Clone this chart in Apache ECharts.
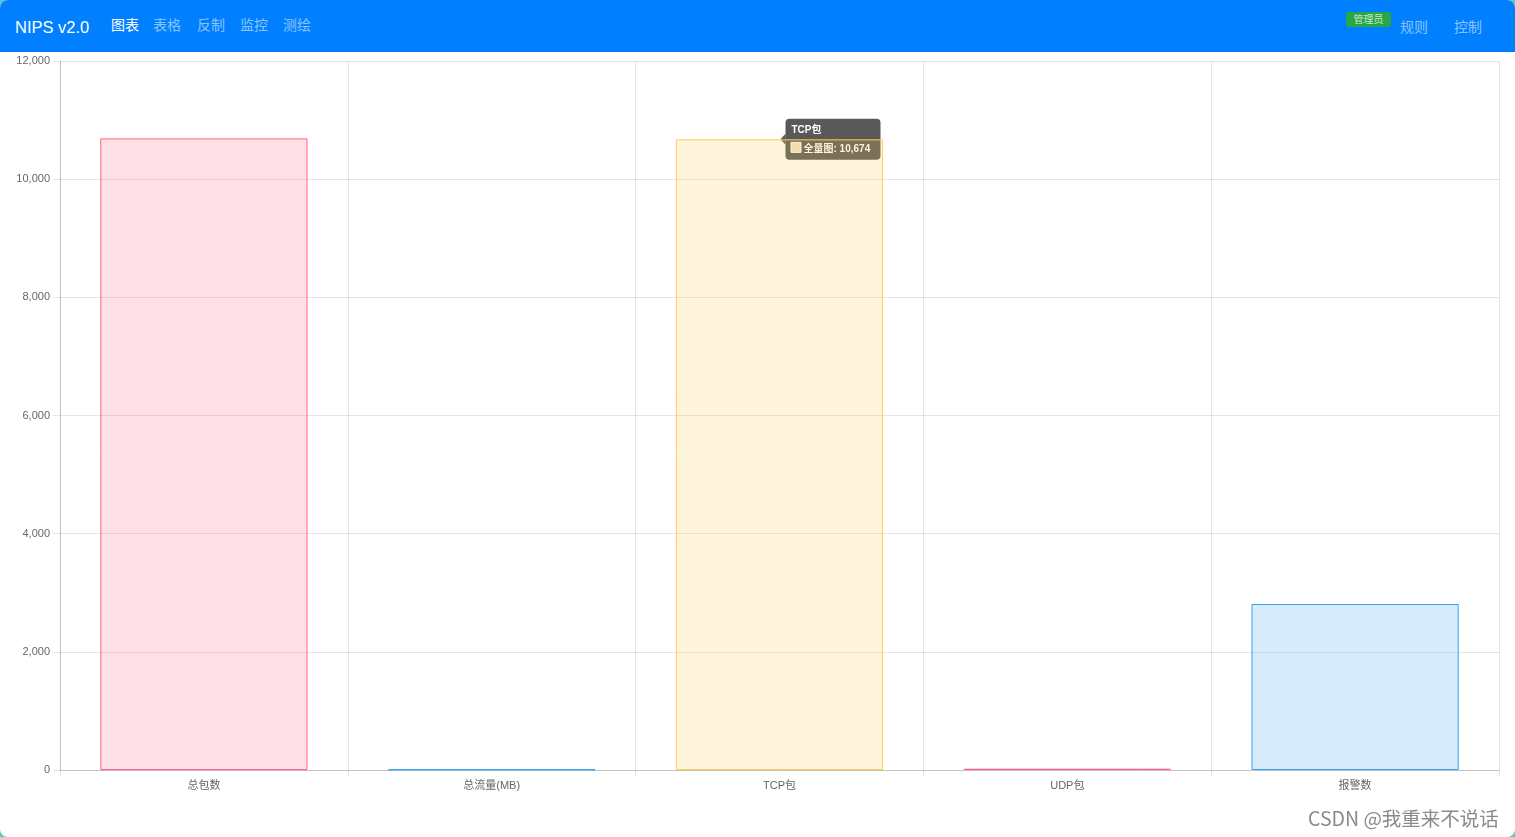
<!DOCTYPE html>
<html><head><meta charset="utf-8">
<script src="https://cdn.jsdelivr.net/npm/echarts@6/dist/echarts.min.js"></script>
<style>
html,body{margin:0;padding:0;width:1515px;height:837px;overflow:hidden;background:#5cc8c0;}
#page{position:absolute;left:0;top:0;width:1515px;height:837px;background:#fff;border-radius:8px;overflow:hidden;font-family:"Liberation Sans",Arial,"Noto Sans CJK SC",sans-serif;}
#nav{position:absolute;left:0;top:0;width:1515px;height:52px;background:#0080ff;}
#nav span{position:absolute;top:15px;font-size:14px;line-height:20px;color:rgba(255,255,255,0.55);}
#brand{left:15px;top:15px!important;font-size:16.5px!important;line-height:24px!important;color:#fff!important;}
#badge{position:absolute;left:1346px;top:12px;width:45px;height:15px;background:#28a745;border-radius:3px;color:rgba(255,255,255,0.75);font-size:10px;line-height:15px;text-align:center;}
#chart{position:absolute;left:0;top:52px;width:1515px;height:785px;}
#wm{position:absolute;left:1308px;top:806px;font-size:19.5px;line-height:24px;color:#8a8a8a;font-family:"Noto Sans CJK SC","Liberation Sans",sans-serif;}
</style></head>
<body><div id="page">
<div id="nav">
<span id="brand">NIPS v2.0</span>
<span style="left:111px;color:#fff">图表</span>
<span style="left:153px">表格</span>
<span style="left:197px">反制</span>
<span style="left:240px">监控</span>
<span style="left:283px">测绘</span>
<div id="badge">管理员</div>
<span style="left:1400px;top:17px">规则</span>
<span style="left:1454px;top:17px">控制</span>
</div>
<div id="chart"></div>
<div id="wm">CSDN @我重来不说话</div>
</div>
<script>
const categories = ['总包数', '总流量(MB)', 'TCP包', 'UDP包', '报警数'];
const values = [10690, 8, 10674, 22, 2810];
const seriesName = '全量图';
const fills = ['rgba(255,99,132,0.2)', 'rgba(54,162,235,0.2)', 'rgba(255,206,86,0.2)', 'rgba(255,99,132,0.2)', 'rgba(54,162,235,0.2)'];
const borders = ['rgba(255,99,132,1)', 'rgba(54,162,235,1)', 'rgba(255,206,86,1)', 'rgba(255,99,132,1)', 'rgba(54,162,235,1)'];
const tipIndex = 2;

const font = '"Liberation Sans", Arial, "Noto Sans CJK SC", sans-serif';
const chart = echarts.init(document.getElementById('chart'), null, {renderer: 'canvas'});
chart.setOption({
  animation: false,
  grid: {left: 60, right: 16, top: 9, bottom: 67},
  xAxis: {
    type: 'category', data: categories,
    axisLine: {show: true, lineStyle: {color: 'rgba(0,0,0,0.15)'}},
    axisTick: {show: true, length: 7, lineStyle: {color: 'rgba(0,0,0,0.1)'}},
    splitLine: {show: true, lineStyle: {color: 'rgba(0,0,0,0.1)'}},
    axisLabel: {color: '#666', fontSize: 11, fontFamily: font, margin: 10}
  },
  yAxis: {
    type: 'value', min: 0, max: 12000, interval: 2000,
    axisLine: {show: true, lineStyle: {color: 'rgba(0,0,0,0.15)'}},
    axisTick: {show: true, length: 7, lineStyle: {color: 'rgba(0,0,0,0.1)'}},
    splitLine: {show: true, lineStyle: {color: 'rgba(0,0,0,0.1)'}},
    axisLabel: {color: '#666', fontSize: 11, fontFamily: font, margin: 10,
      formatter: v => v.toLocaleString('en-US')}
  },
  series: [{
    type: 'bar', name: seriesName, barCategoryGap: '28%',
    data: values.map((v, i) => ({value: v, itemStyle: {color: fills[i], borderColor: borders[i], borderWidth: 1}}))
  }]
});

const p = chart.convertToPixel({xAxisIndex: 0, yAxisIndex: 0}, [categories[tipIndex], values[tipIndex]]);
const bx = p[0] + 6, by = p[1] - 20.5;
chart.setOption({
  graphic: [{
    type: 'group', left: 0, top: 0, silent: true, bounding: 'raw',
    children: [
      {type: 'polygon', shape: {points: [[bx, by + 15], [bx - 5, by + 20.5], [bx, by + 26]]}, style: {fill: 'rgba(0,0,0,0.65)'}},
      {type: 'rect', shape: {x: bx, y: by, width: 95, height: 41, r: 4}, style: {fill: 'rgba(0,0,0,0.65)'}},
      {type: 'text', style: {x: bx + 6, y: by + 6, text: categories[tipIndex], fill: '#fff', font: 'bold 10px ' + font}},
      {type: 'rect', shape: {x: bx + 5.5, y: by + 23.5, width: 10, height: 10}, style: {fill: '#efe3c4', stroke: '#fff', lineWidth: 1}},
      {type: 'text', style: {x: bx + 18, y: by + 25, text: seriesName + ': ' + values[tipIndex].toLocaleString('en-US'), fill: '#fff', font: 'bold 10px ' + font}}
    ]
  }]
});
</script>
</body></html>
